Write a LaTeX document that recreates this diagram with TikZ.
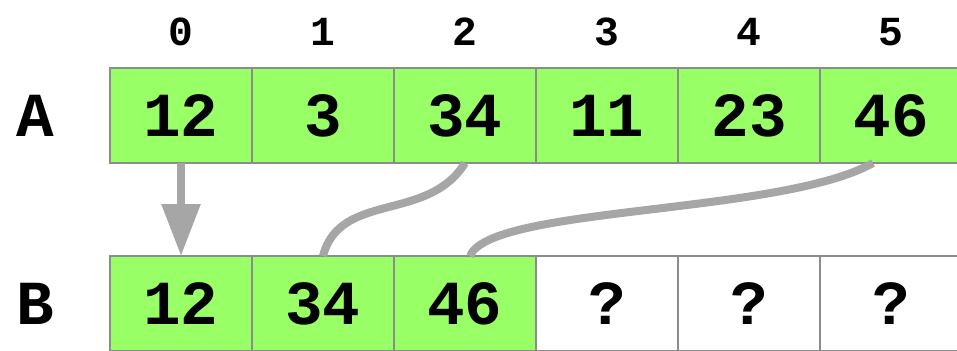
\documentclass[tikz,border=0pt]{standalone}
\usepackage{fontspec}
\setmonofont{Liberation Mono}
\usetikzlibrary{calc,arrows.meta,positioning}
\definecolor{cellgreen}{HTML}{99FF66}
\definecolor{rule}{HTML}{8C8C8C}
\definecolor{linkgray}{HTML}{A6A6A6}
\tikzset{cell/.style={draw=rule,line width=1.5pt,minimum width=106.5pt,minimum height=71.25pt,inner sep=0pt,outer sep=0pt,font=\ttfamily\bfseries\fontsize{47}{47}\selectfont},
  full/.style={cell,fill=cellgreen},
  idx/.style={font=\ttfamily\bfseries\fontsize{31}{31}\selectfont},
  rowname/.style={font=\ttfamily\bfseries\fontsize{47}{47}\selectfont},
  link/.style={linkgray,line width=6pt}}

\begin{document}
\begin{tikzpicture}[x=0.75pt,y=-0.75pt]
\clip (0,0) rectangle (957,350);
\fill[white] (0,0) rectangle (957,350);
% source array with indices
\foreach \v [count=\i from 0] in {12,3,34,11,23,46}{\node[full] (a\i) at (181+142*\i,115.5){\v};\node[idx] (i\i) at (181+142*\i,32){\i};}
% target array
\foreach \v [count=\i from 0] in {12,34,46}{\node[full] (b\i) at (181+142*\i,303.5){\v};}
\foreach \i in {3,4,5}{\node[cell] (b\i) at (181+142*\i,303.5){?};}
\node[rowname] (ra) at (35,115.5){A};\node[rowname] (rb) at (35,303.5){B};
% copies
\draw[link,-{Triangle[length=39pt,width=28pt]}] (a0.south) -- (b0.north);
\draw[link] (a2.south) .. controls ($(a2.south)+(-37,60)$) and ($(b1.north)+(17,-65)$) .. (b1.north);
\draw[link] ($(a5.south)+(-18,0)$) .. controls ($(a5.south)+(-111,52)$) and ($(b2.north)+(25,-50)$) .. ($(b2.north)+(5,0)$);
\end{tikzpicture}
\end{document}
